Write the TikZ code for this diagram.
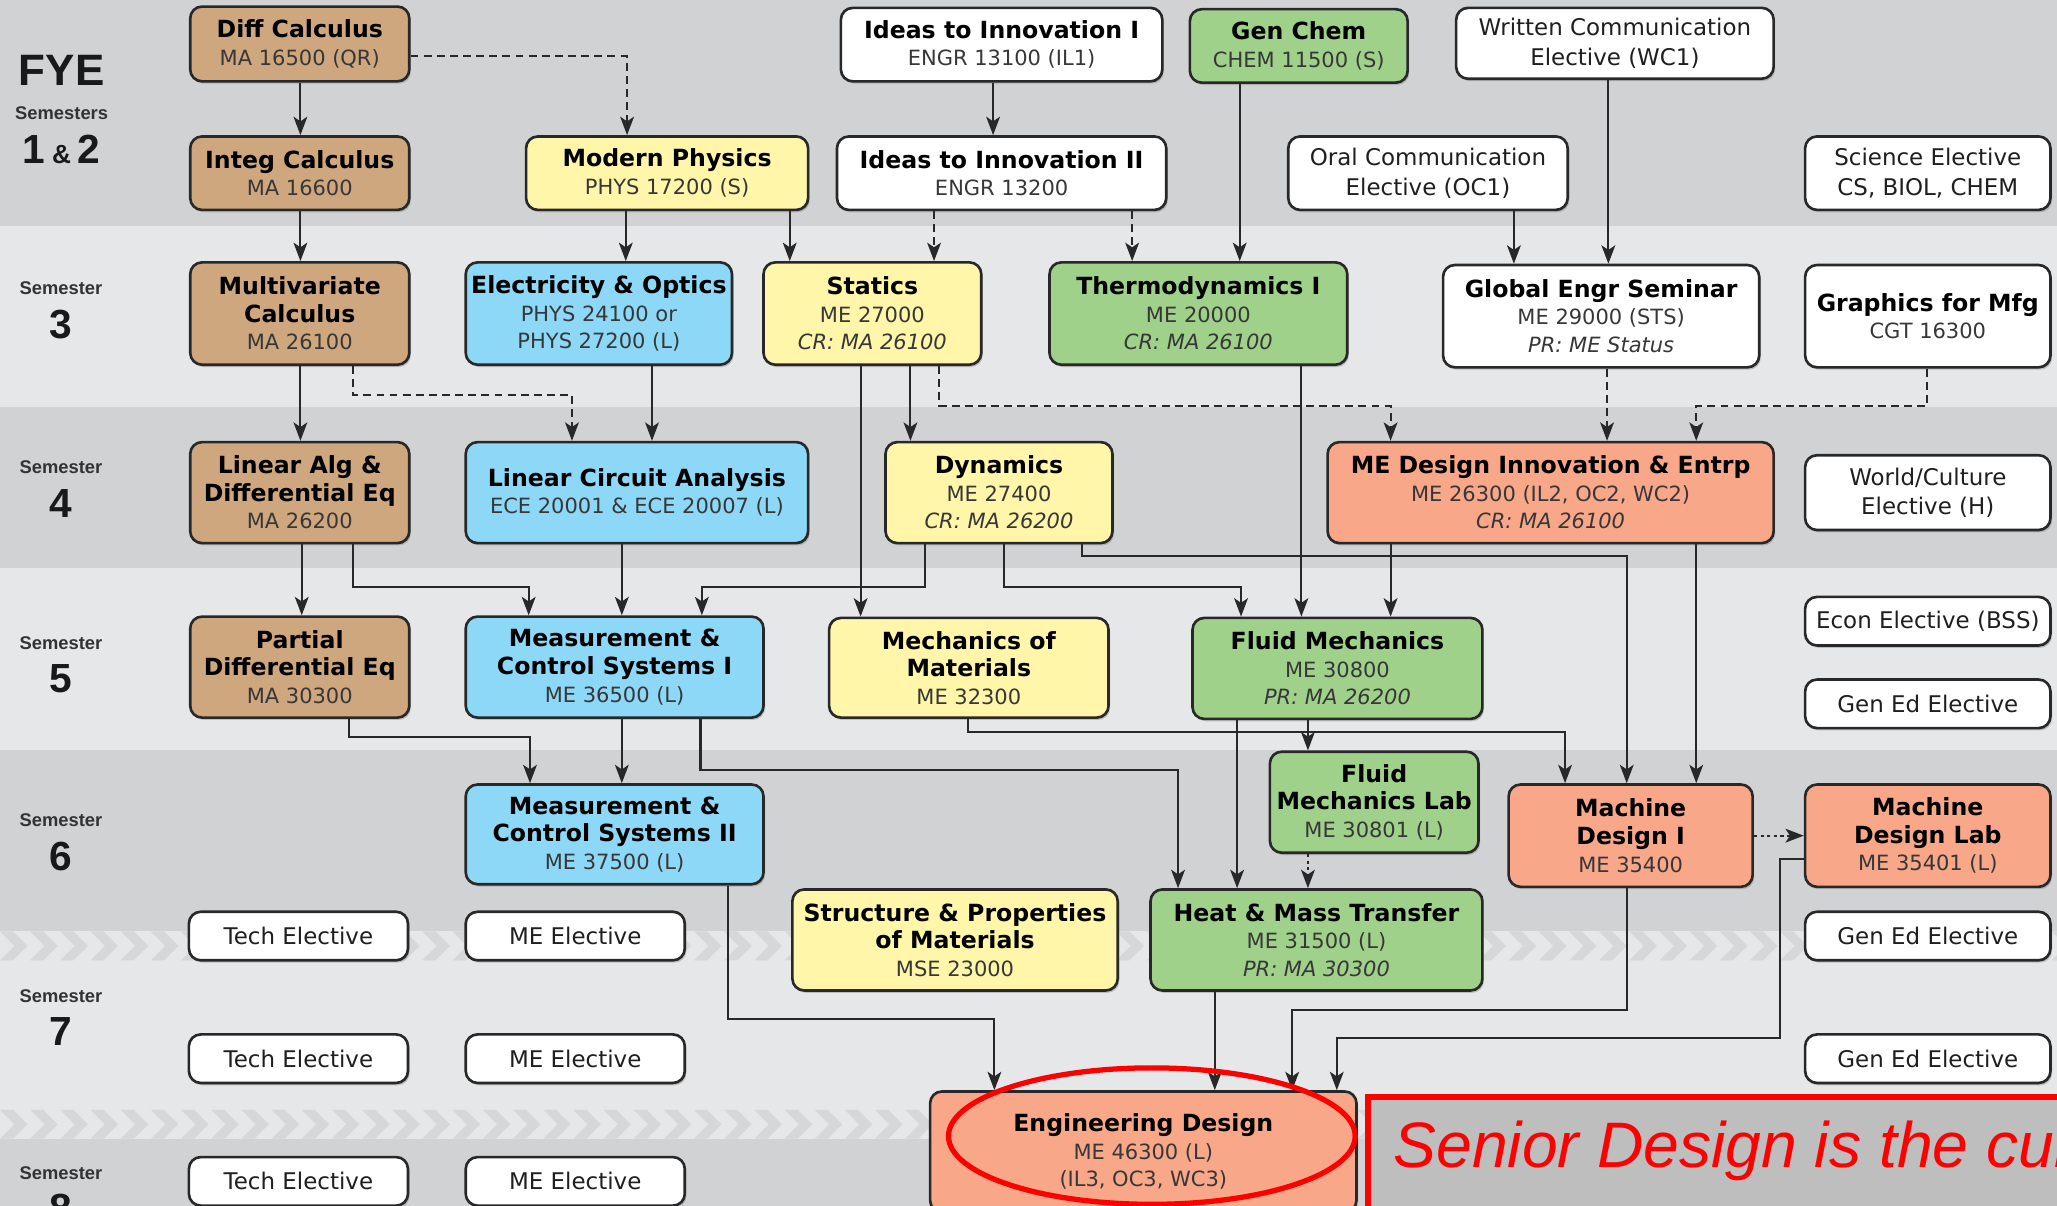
\documentclass[tikz,border=0pt]{standalone}
\usepackage{fontspec}
\setmainfont{DejaVu Sans}
\newfontfamily\semfont{Liberation Sans}
\newfontfamily\notefont{Liberation Sans}
\usepackage{tikz}
\usetikzlibrary{arrows.meta,shadows}

\definecolor{calc}{RGB}{207,167,127}
\definecolor{phys}{RGB}{255,246,170}
\definecolor{elec}{RGB}{141,216,246}
\definecolor{chem}{RGB}{159,209,139}
\definecolor{desg}{RGB}{248,167,137}
\definecolor{bandA}{RGB}{209,210,212}
\definecolor{bandB}{RGB}{230,231,232}
\definecolor{chev}{RGB}{214,215,217}
\definecolor{rim}{RGB}{40,40,40}
\definecolor{subg}{RGB}{55,55,55}
\definecolor{boxg}{RGB}{190,190,190}

\newcommand{\ttl}[1]{{\color{black}\bfseries\fontsize{18}{21}\selectfont #1}}

\begin{document}
\begin{tikzpicture}[x=1pt,y=-1pt,>={Stealth[length=14pt,width=10.5pt,inset=3.5pt]},
                    line join=miter]
\tikzstyle{course}=[draw=rim,line width=2pt,rounded corners=9pt,align=center,inner sep=0pt,
    text=subg,font=\fontsize{16}{21}\selectfont,
    drop shadow={shadow xshift=1.2pt,shadow yshift=-1.8pt,opacity=.4}]
\tikzstyle{elective}=[course,fill=white,text=black!88,font=\fontsize{17.5}{22.5}\selectfont]
\tikzstyle{prereq}=[->,draw=rim,line width=1.6pt]
\tikzstyle{coreq}=[prereq,dash pattern=on 6pt off 4pt]
\tikzstyle{labreq}=[prereq,dash pattern=on 2.5pt off 2.5pt]
\tikzstyle{semword}=[font=\semfont\bfseries\fontsize{14}{14}\selectfont,text=black!80,inner sep=0pt]
\tikzstyle{semnum}=[font=\semfont\bfseries\fontsize{31}{31}\selectfont,text=black!90,inner sep=0pt]

\useasboundingbox (0,0) rectangle (1568,919);
\clip (0,0) rectangle (1568,919);

\fill[bandA] (0,0) rectangle (1568,172);
\fill[bandB] (0,172) rectangle (1568,310);
\fill[bandA] (0,310) rectangle (1568,433);
\fill[bandB] (0,433) rectangle (1568,572);
\fill[bandA] (0,572) rectangle (1568,710);
\fill[bandB] (0,710) rectangle (1568,868);
\fill[bandA] (0,868) rectangle (1568,919);
\foreach \s in {-23,0,...,1580}
  {\fill[chev] (\s,710) -- ++(10,0) -- ++(11,11) -- ++(-11,11) -- ++(-10,0) -- ++(11,-11) -- cycle;
   \fill[chev] (\s,846) -- ++(10,0) -- ++(11,11) -- ++(-11,11) -- ++(-10,0) -- ++(11,-11) -- cycle;}

\node[semnum] (fye) [font=\semfont\bfseries\fontsize{33.5}{34}\selectfont] at (47,54) {FYE};
\node[semword] (sems) at (47,86) {Semesters};
\node[semnum] (one2) at (47,114) {1\,{\fontsize{20}{20}\selectfont\&}\,2};
\foreach \n/\y in {3/220,4/356,5/490,6/625,7/759,8/894}
  {\node[semword] (sem\n) at (46.5,\y) {Semester};
   \node[semnum] (num\n) at (46.5,\y+27.5) {\n};}

\node[course,fill=calc,minimum width=167pt,minimum height=57pt] (ma165) at (228.5,33.5) {\ttl{Diff Calculus}\\MA 16500 (QR)};
\node[course,fill=calc,minimum width=167pt,minimum height=56pt] (ma166) at (228.5,132) {\ttl{Integ Calculus}\\MA 16600};
\node[course,fill=calc,minimum width=167pt,minimum height=78pt] (ma261) at (228.5,239) {\ttl{Multivariate}\\\ttl{Calculus}\\MA 26100};
\node[course,fill=calc,minimum width=167pt,minimum height=77pt] (ma262) at (228.5,375.5) {\ttl{Linear Alg \&}\\\ttl{Differential Eq}\\MA 26200};
\node[course,fill=calc,minimum width=167pt,minimum height=77pt] (ma303) at (228.5,508.5) {\ttl{Partial}\\\ttl{Differential Eq}\\MA 30300};

\node[course,fill=phys,minimum width=215pt,minimum height=56pt] (phys172) at (508.5,132) {\ttl{Modern Physics}\\PHYS 17200 (S)};
\node[course,fill=white,minimum width=245pt,minimum height=56pt] (engr131) at (763.5,34) {\ttl{Ideas to Innovation I}\\ENGR 13100 (IL1)};
\node[course,fill=white,minimum width=251pt,minimum height=56pt] (engr132) at (763.5,132) {\ttl{Ideas to Innovation II}\\ENGR 13200};
\node[course,fill=chem,minimum width=166pt,minimum height=56pt] (chem115) at (990,35) {\ttl{Gen Chem}\\CHEM 11500 (S)};
\node[elective,minimum width=242pt,minimum height=54pt] (wc1) at (1231,33) {Written Communication\\Elective (WC1)};
\node[elective,minimum width=213pt,minimum height=56pt] (oc1) at (1088.5,132) {Oral Communication\\Elective (OC1)};
\node[elective,minimum width=187pt,minimum height=56pt] (scie) at (1469.5,132) {Science Elective\\CS, BIOL, CHEM};

\node[course,fill=elec,minimum width=203pt,minimum height=78pt] (phys241) at (456.5,239) {\ttl{Electricity \& Optics}\\PHYS 24100 or\\PHYS 27200 (L)};
\node[course,fill=phys,minimum width=166pt,minimum height=78pt] (me270) at (665,239) {\ttl{Statics}\\ME 27000\\\textit{CR: MA 26100}};
\node[course,fill=chem,minimum width=227pt,minimum height=78pt] (me200) at (913.5,239) {\ttl{Thermodynamics I}\\ME 20000\\\textit{CR: MA 26100}};
\node[course,fill=white,minimum width=241pt,minimum height=78pt] (me290) at (1220.5,241) {\ttl{Global Engr Seminar}\\ME 29000 (STS)\\\textit{PR: ME Status}};
\node[course,fill=white,minimum width=187pt,minimum height=78pt] (cgt163) at (1469.5,241) {\ttl{Graphics for Mfg}\\CGT 16300};

\node[course,fill=elec,minimum width=261pt,minimum height=77pt] (ece200) at (485.5,375.5) {\ttl{Linear Circuit Analysis}\\ECE 20001 \& ECE 20007 (L)};
\node[course,fill=phys,minimum width=173pt,minimum height=77pt] (me274) at (761.5,375.5) {\ttl{Dynamics}\\ME 27400\\\textit{CR: MA 26200}};
\node[course,fill=desg,minimum width=340pt,minimum height=77pt] (me263) at (1182,375.5) {\ttl{ME Design Innovation \& Entrp}\\ME 26300 (IL2, OC2, WC2)\\\textit{CR: MA 26100}};
\node[elective,minimum width=187pt,minimum height=57pt] (wcult) at (1469.5,375.5) {World/Culture\\Elective (H)};

\node[course,fill=elec,minimum width=227pt,minimum height=77pt] (me365) at (468.5,508.5) {\ttl{Measurement \&}\\\ttl{Control Systems I}\\ME 36500 (L)};
\node[course,fill=phys,minimum width=213pt,minimum height=76pt] (me323) at (738.5,509) {\ttl{Mechanics of}\\\ttl{Materials}\\ME 32300};
\node[course,fill=chem,minimum width=221pt,minimum height=77pt] (me308) at (1019.5,509.5) {\ttl{Fluid Mechanics}\\ME 30800\\\textit{PR: MA 26200}};
\node[elective,minimum width=187pt,minimum height=37pt] (econ) at (1469.5,473.5) {Econ Elective (BSS)};
\node[elective,minimum width=187pt,minimum height=37pt] (ged5) at (1469.5,536.5) {Gen Ed Elective};

\node[course,fill=elec,minimum width=227pt,minimum height=76pt] (me375) at (468.5,636) {\ttl{Measurement \&}\\\ttl{Control Systems II}\\ME 37500 (L)};
\node[course,fill=chem,minimum width=159pt,minimum height=77pt] (me3081) at (1047.5,611.5) {\ttl{Fluid}\\\ttl{Mechanics Lab}\\ME 30801 (L)};
\node[course,fill=desg,minimum width=186pt,minimum height=78pt] (me354) at (1243,637) {\ttl{Machine}\\\ttl{Design I}\\ME 35400};
\node[course,fill=desg,minimum width=187pt,minimum height=78pt] (me3541) at (1469.5,637) {\ttl{Machine}\\\ttl{Design Lab}\\ME 35401 (L)};
\node[course,fill=phys,minimum width=248pt,minimum height=77pt] (mse230) at (728,716.5) {\ttl{Structure \& Properties}\\\ttl{of Materials}\\MSE 23000};
\node[course,fill=chem,minimum width=253pt,minimum height=77pt] (me315) at (1003.5,716.5) {\ttl{Heat \& Mass Transfer}\\ME 31500 (L)\\\textit{PR: MA 30300}};
\node[course,fill=desg,minimum width=325pt,minimum height=92pt] (me463) at (871.5,878) {\ttl{Engineering Design}\\ME 46300 (L)\\(IL3, OC3, WC3)};

\foreach \s/\y in {6/713.5,7/807,8/900.5}
  {\node[elective,minimum width=167pt,minimum height=37pt] (te\s) at (227.5,\y) {Tech Elective};
   \node[elective,minimum width=167pt,minimum height=37pt] (mee\s) at (438.5,\y) {ME Elective};}
\node[elective,minimum width=187pt,minimum height=37pt] (ged6) at (1469.5,713.5) {Gen Ed Elective};
\node[elective,minimum width=187pt,minimum height=37pt] (ged7) at (1469.5,807) {Gen Ed Elective};

\foreach \a/\b/\x in {ma165/ma166/229,ma166/ma261/229,phys172/phys241/477,phys172/me270/602,
    engr131/engr132/757,chem115/me200/945,oc1/me290/1154,wc1/me290/1226,ma261/ma262/229,
    phys241/ece200/497,me270/me274/694,me270/me323/656,me200/me308/992,ma262/ma303/230,
    ece200/me365/474,me263/me308/1060,me263/me354/1293,me365/me375/474,me308/me3081/997,
    me308/me315/943,me315/me463/926}
  \draw[prereq] (\a.south -| \x,0) -- (\b.north -| \x,0);
\foreach \a/\b/\x in {engr132/me270/712,engr132/me200/863,me290/me263/1225}
  \draw[coreq] (\a.south -| \x,0) -- (\b.north -| \x,0);
\draw[labreq] (me3081.south -| 997,0) -- (me315.north -| 997,0);
\draw[labreq] (me354.east) -- (me3541.west);

\draw[coreq] (ma165.east |- 0,43) -| (phys172.north -| 478,0);
\draw[coreq] (ma261.south -| 269,0) -- (269,301) -| (ece200.north -| 436,0);
\draw[coreq] (me270.south -| 716,0) -- (716,309.5) -| (me263.north -| 1060,0);
\draw[coreq] (cgt163.south -| 1469,0) -- (1469,309.5) -| (me263.north -| 1293,0);

\draw[prereq] (ma262.south -| 269,0) -- (269,447.5) -| (me365.north -| 403,0);
\draw[prereq] (me274.south -| 705,0) -- (705,447.5) -| (me365.north -| 535,0);
\draw[prereq] (me274.south -| 765,0) -- (765,447.5) -| (me308.north -| 946,0);
\draw[prereq] (me274.south -| 825,0) -- (825,424) -| (me354.north -| 1240,0);
\draw[prereq] (ma303.south -| 266,0) -- (266,562) -| (me375.north -| 404,0);
\draw[prereq] (me365.south -| 534,0) -- (534,587) -| (me315.north -| 898,0);
\draw[prereq] (me323.south -| 738,0) -- (738,558) -| (me354.north -| 1193,0);
\draw[prereq] (me375.south -| 555,0) -- (555,777) -| (me463.north -| 758,0);
\draw[prereq] (me354.south -| 1240,0) -- (1240,770) -| (me463.north -| 985,0);
\draw[prereq] (me3541.west |- 0,655) -- (1357,655) -- (1357,791) -| (me463.north -| 1019,0);

\draw[red,line width=4pt] (878,866) ellipse [x radius=155pt,y radius=52pt];
\fill[boxg] (1043,836) rectangle (1620,960);
\draw[red,line width=4.5pt] (1043,836) rectangle (1620,960);
\node[anchor=base west,text=red,inner sep=0pt,font=\notefont\itshape\fontsize{49}{49}\selectfont] (note) at (1062,890) {Senior Design is the cul};
\end{tikzpicture}
\end{document}
